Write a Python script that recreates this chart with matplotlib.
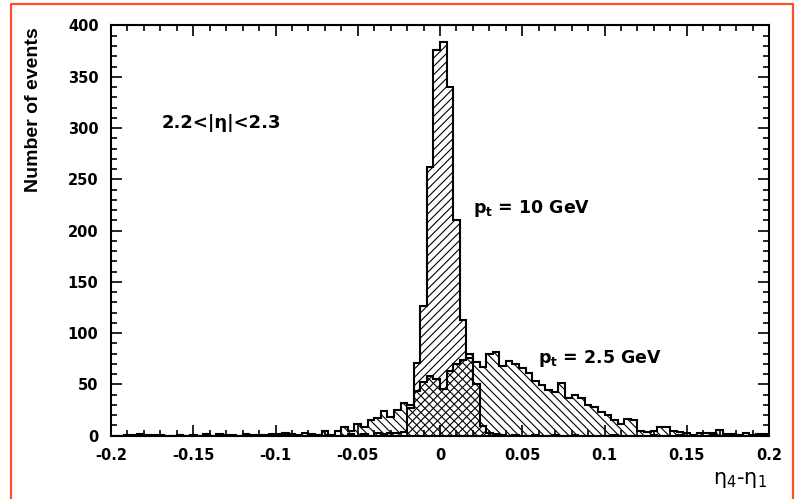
import numpy as np
import matplotlib
matplotlib.use("Agg")
import matplotlib.pyplot as plt
from matplotlib.lines import Line2D
from matplotlib.ticker import MultipleLocator

# 100 bins of 0.004 between -0.2 and 0.2
edges = np.linspace(-0.2, 0.2, 101)

counts_10gev = [
    0, 0, 1, 0, 0, 1, 0, 0, 0, 0,
    1, 0, 1, 0, 0, 0, 0, 0, 1, 0,
    0, 1, 0, 1, 0, 0, 1, 0, 0, 0,
    2, 1, 0, 1, 0, 0, 2, 0, 2, 0,
    3, 2, 3, 3, 4, 27, 71, 126, 262, 376,
    384, 340, 210, 113, 76, 50, 9, 3, 2, 1,
    0, 1, 0, 0, 1, 0, 0, 1, 0, 0,
    1, 0, 0, 0, 0, 0, 1, 0, 0, 0,
    0, 0, 1, 0, 0, 0, 1, 0, 0, 0,
    0, 1, 0, 0, 0, 1, 0, 0, 0, 0,
]

counts_2p5gev = [
    0, 0, 0, 1, 2, 0, 1, 1, 0, 0,
    0, 0, 0, 0, 2, 0, 2, 1, 0, 0,
    2, 0, 1, 0, 2, 2, 3, 2, 1, 3,
    1, 1, 5, 1, 5, 8, 5, 11, 8, 15,
    17, 24, 18, 25, 32, 30, 44, 52, 58, 55,
    46, 63, 70, 74, 80, 72, 67, 80, 82, 68,
    73, 70, 66, 61, 53, 49, 45, 43, 51, 37,
    40, 37, 30, 28, 23, 20, 15, 11, 16, 15,
    5, 4, 5, 8, 8, 5, 4, 3, 1, 3,
    3, 3, 6, 2, 2, 1, 3, 1, 2, 2,
]

xticks = [-0.2, -0.15, -0.1, -0.05, 0, 0.05, 0.1, 0.15, 0.2]
xtick_labels = ["-0.2", "-0.15", "-0.1", "-0.05", "0", "0.05", "0.1", "0.15", "0.2"]
yticks = [0, 50, 100, 150, 200, 250, 300, 350, 400]

plt.rcParams["font.family"] = "DejaVu Sans"
plt.rcParams["hatch.linewidth"] = 0.8

fig = plt.figure(figsize=(7.97, 4.99), dpi=100)
ax = fig.add_axes([0.1393, 0.1269, 0.8256, 0.822])

# hatched fills, overlap gives the cross hatch
ax.stairs(counts_2p5gev, edges, fill=True, facecolor="none",
          edgecolor="black", hatch="\\\\\\\\", linewidth=0)
ax.stairs(counts_10gev, edges, fill=True, facecolor="none",
          edgecolor="black", hatch="////", linewidth=0)
ax.stairs(counts_2p5gev, edges, color="black", linewidth=1.5)
ax.stairs(counts_10gev, edges, color="black", linewidth=1.5)

ax.set_xlim(-0.2, 0.2)
ax.set_ylim(0, 400)
ax.set_xticks(xticks)
ax.set_xticklabels(xtick_labels)
ax.set_yticks(yticks)
ax.xaxis.set_minor_locator(MultipleLocator(0.01))
ax.yaxis.set_minor_locator(MultipleLocator(10))
ax.tick_params(which="both", direction="in", top=True, right=True,
               labelsize=10.5, width=1.2, colors="black")
ax.tick_params(which="major", length=8, pad=9)
ax.tick_params(which="minor", length=4)
for lab in ax.get_xticklabels() + ax.get_yticklabels():
    lab.set_fontweight("bold")
for sp in ax.spines.values():
    sp.set_linewidth(1.5)

ax.text(-0.169, 299.6, "2.2<|η|<2.3", fontsize=13, fontweight="bold",
        va="baseline")
ax.text(0.0202, 217, r"p$_\mathbf{t}$ = 10 GeV", fontsize=12.5,
        fontweight="bold", va="baseline")
ax.text(0.0598, 70.6, r"p$_\mathbf{t}$ = 2.5 GeV", fontsize=12.5,
        fontweight="bold", va="baseline")

fig.text(34 / 797, 1 - 27 / 499, "Number of events", rotation=90,
         ha="center", va="top", fontsize=14, fontweight="bold",
         family="Liberation Sans")
fig.text(767 / 797, 1 - 480 / 499, r"$\mathrm{\eta_4}$-$\mathrm{\eta_1}$",
         ha="right", va="center", fontsize=15)

# orange frame around the picture, open at the bottom
frame_color = "#ff5025"
x0, x1, y1 = 10.5 / 797, 793 / 797, 1 - 3.5 / 499
fig.add_artist(Line2D([x0, x0, x1, x1], [0, y1, y1, 0],
                      transform=fig.transFigure, color=frame_color,
                      linewidth=1.6))

fig.savefig("out.png", dpi=100)
